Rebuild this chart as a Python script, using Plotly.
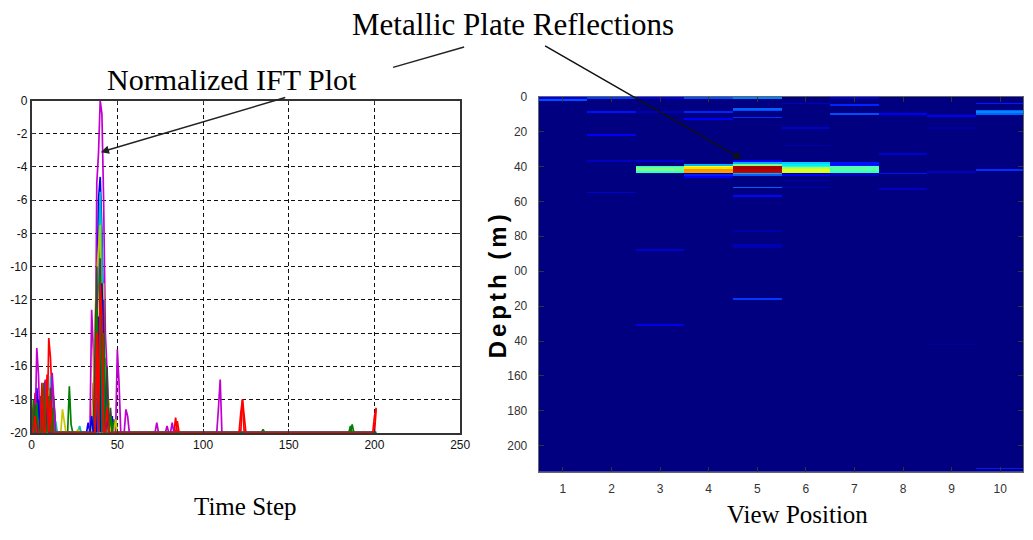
import numpy as np
import plotly.graph_objects as go

W, H = 1033, 540

# ---------------- Left panel: normalized IFT (dB) ----------------
time_steps = list(range(0, 202))
floor_db = -20

series_colors = ["#0000ff", "#008000", "#ff0000", "#00bfbf", "#c000d0",
                 "#c8c800", "#404040", "#0000ff", "#008000", "#ff0000"]

# (time step, dB) samples above the -20 dB floor, one list per view position
ift_peaks_1 = [(1, -18.5), (3, -17.3), (4, -18.5), (6, -18.0), (8, -19.0), (13, -18.2),
               (33, -19.4), (37, -15.0), (38, -12.0), (39, -6.0), (40, -4.6), (41, -8.0),
               (42, -14.0), (45, -18.2), (47, -19.0)]
ift_peaks_2 = [(1, -18.0), (2, -19.0), (5, -17.8), (6, -18.6), (9, -19.2), (12, -17.4),
               (13, -18.0), (22, -17.2), (23, -19.5), (37, -16.0), (38, -13.0), (39, -11.0),
               (40, -8.0), (41, -12.0), (43, -15.5), (44, -17.0), (48, -19.2), (135, -19.8),
               (186, -19.6)]
ift_peaks_3 = [(2, -17.6), (5, -18.3), (7, -17.5), (8, -16.8), (10, -14.3), (11, -15.5),
               (12, -18.0), (36, -17.0), (38, -12.0), (39, -9.5), (40, -10.6), (41, -12.0),
               (43, -17.5), (84, -19.1), (123, -18.0), (124, -19.0), (201, -18.6)]
ift_peaks_4 = [(4, -18.4), (7, -18.0), (11, -16.6), (12, -18.8), (14, -19.3), (28, -19.6),
               (37, -16.5), (38, -13.0), (39, -8.5), (40, -5.5), (41, -9.0), (43, -16.0),
               (46, -18.8)]
ift_peaks_5 = [(3, -14.9), (4, -16.5), (8, -16.9), (9, -18.0), (12, -16.4), (13, -18.5),
               (35, -12.6), (36, -15.0), (38, -5.0), (39, -3.2), (40, 0.0), (41, -0.8),
               (42, -6.0), (43, -14.0), (44, -16.3), (50, -15.0), (51, -17.0), (55, -18.6),
               (56, -19.0), (73, -19.4), (79, -19.6), (82, -19.4), (109, -18.5), (110, -16.8)]
ift_peaks_6 = [(5, -18.8), (10, -17.5), (18, -18.6), (19, -19.3), (27, -19.8), (36, -18.0),
               (37, -13.0), (38, -10.5), (39, -9.0), (40, -7.5), (42, -11.0), (45, -18.0),
               (49, -19.2)]
ift_peaks_7 = [(2, -18.3), (6, -17.5), (9, -17.8), (11, -17.3), (37, -15.0), (38, -10.0),
               (40, -9.5), (42, -12.0), (44, -16.0), (46, -18.5)]
ift_peaks_8 = [(4, -18.0), (7, -17.4), (9, -18.5), (35, -19.0), (39, -13.0), (41, -11.0),
               (42, -15.0), (44, -19.0)]
ift_peaks_9 = [(3, -18.2), (7, -17.0), (10, -17.8), (12, -18.5), (38, -12.5), (40, -10.6),
               (42, -14.0), (46, -19.0), (187, -19.5)]
ift_peaks_10 = [(2, -19.0), (6, -17.0), (9, -16.5), (11, -18.0), (38, -14.0), (40, -11.0),
                (41, -13.0), (44, -18.5), (85, -19.3), (122, -18.8), (123, -18.0),
                (200, -19.0), (201, -18.5)]

ift_series = [ift_peaks_1, ift_peaks_2, ift_peaks_3, ift_peaks_4, ift_peaks_5,
              ift_peaks_6, ift_peaks_7, ift_peaks_8, ift_peaks_9, ift_peaks_10]

time_ticks = [0, 50, 100, 150, 200, 250]
db_ticks = list(range(-20, 1, 2))

# ---------------- Right panel: depth image ----------------
view_positions = list(range(1, 11))
depths = list(range(0, 216))
depth_ticks = list(range(0, 201, 20))

# (depth, normalized intensity) reflections per view position
refl_pos1 = [(1, 0.10), (2, 0.20)]
refl_pos2 = [(1, 0.18), (9, 0.14), (22, 0.12), (37, 0.06), (55, 0.08)]
refl_pos3 = [(1, 0.10), (9, 0.05), (37, 0.08), (40, 0.40), (41, 0.50), (42, 0.50),
             (43, 0.42), (88, 0.08), (131, 0.10)]
refl_pos4 = [(1, 0.20), (9, 0.16), (13, 0.12), (39, 0.30), (40, 0.62), (41, 0.65),
             (42, 0.73), (43, 0.72), (45, 0.15), (46, 0.12)]
refl_pos5 = [(1, 0.25), (7, 0.22), (8, 0.20), (12, 0.17), (37, 0.12), (38, 0.30),
             (39, 0.50), (40, 0.95), (41, 0.97), (42, 0.95), (43, 0.93), (44, 0.30),
             (45, 0.22), (52, 0.22), (57, 0.13), (77, 0.04), (85, 0.05), (86, 0.05),
             (116, 0.18)]
refl_pos6 = [(4, 0.06), (18, 0.07), (28, 0.04), (38, 0.33), (39, 0.36), (40, 0.40),
             (41, 0.55), (42, 0.60), (43, 0.58), (45, 0.12), (48, 0.05), (52, 0.05)]
refl_pos7 = [(1, 0.08), (5, 0.16), (10, 0.20), (38, 0.14), (39, 0.14), (40, 0.45),
             (41, 0.46), (42, 0.46), (43, 0.42), (45, 0.06)]
refl_pos8 = [(10, 0.12), (33, 0.08), (44, 0.14), (53, 0.07)]
refl_pos9 = [(11, 0.12), (18, 0.04), (43, 0.06), (142, 0.03)]
refl_pos10 = [(4, 0.15), (8, 0.22), (9, 0.26), (10, 0.22), (42, 0.17), (213, 0.15)]

reflections = [refl_pos1, refl_pos2, refl_pos3, refl_pos4, refl_pos5,
               refl_pos6, refl_pos7, refl_pos8, refl_pos9, refl_pos10]

jet = [[0.0, "rgb(0,0,128)"], [0.125, "rgb(0,0,255)"], [0.375, "rgb(0,255,255)"],
       [0.625, "rgb(255,255,0)"], [0.875, "rgb(255,0,0)"], [1.0, "rgb(128,0,0)"]]

# ---------------- Build figure ----------------
def px(x):
    return x / W

def py(y):
    return 1 - y / H

fig = go.Figure()

for peaks, color in zip(ift_series, series_colors):
    vals = np.full(len(time_steps), float(floor_db))
    for t, v in peaks:
        vals[time_steps.index(t)] = v
    fig.add_trace(go.Scatter(x=time_steps, y=vals, mode="lines",
                             line=dict(color=color, width=1.7),
                             xaxis="x", yaxis="y", showlegend=False, hoverinfo="skip"))

z = np.zeros((len(depths), len(view_positions)))
for ci, refl in enumerate(reflections):
    for d, v in refl:
        z[depths.index(d), ci] = v

fig.add_trace(go.Heatmap(x=view_positions, y=depths, z=z, colorscale=jet,
                         zmin=0, zmax=1, showscale=False, xaxis="x2", yaxis="y2",
                         hoverinfo="skip"))

tick_font = dict(family="Liberation Sans, Arial", size=12, color="#111")
tick_font2 = dict(family="Liberation Sans, Arial", size=12, color="#333")

fig.update_layout(
    width=W, height=H,
    margin=dict(l=0, r=0, t=0, b=0),
    paper_bgcolor="white", plot_bgcolor="white",
    xaxis=dict(domain=[px(29), px(463)], range=[0, 250],
               tickvals=time_ticks, ticktext=[str(v) for v in time_ticks],
               showgrid=True, gridcolor="#111", griddash="4px,3px", gridwidth=1.3,
               zeroline=False, showline=True, linecolor="#333", linewidth=1.5,
               mirror="ticks", ticks="inside", ticklen=4, tickcolor="#333",
               tickfont=tick_font, anchor="y"),
    yaxis=dict(domain=[py(437), py(96)], range=[-20, 0],
               tickvals=db_ticks, ticktext=[str(v) for v in db_ticks],
               showgrid=True, gridcolor="#111", griddash="4px,3px", gridwidth=1.3,
               zeroline=False, showline=True, linecolor="#333", linewidth=1.5,
               mirror="ticks", ticks="inside", ticklen=4, tickcolor="#333",
               tickfont=tick_font, anchor="x"),
    xaxis2=dict(domain=[px(542.5), 1.0], range=[0.5, 10.47],
                tickvals=view_positions, ticktext=[str(v) for v in view_positions],
                showgrid=False, zeroline=False, showline=True, linecolor="#666",
                linewidth=1, mirror="ticks", ticks="inside", ticklen=5, tickcolor="#333",
                tickfont=tick_font2, ticklabelstandoff=6, anchor="y2"),
    yaxis2=dict(domain=[py(477), py(92)], range=[214.8, 0],
                tickvals=depth_ticks, ticktext=[str(v) for v in depth_ticks],
                showgrid=False, zeroline=False, showline=True, linecolor="#666",
                linewidth=1, mirror="ticks", ticks="inside", ticklen=5, tickcolor="#333",
                tickfont=tick_font2, ticklabelstandoff=8, anchor="x2"),
)

serif = "Liberation Serif, Times New Roman"

# Upper part of the leader line toward the IFT plot
fig.add_shape(type="line", xref="paper", yref="paper",
              x0=px(395), y0=py(62), x1=px(467), y1=py(41),
              line=dict(color="#222", width=1.5))

annotations = [
    dict(text="Metallic Plate Reflections", x=px(516), y=py(18), xref="paper", yref="paper",
         showarrow=False, font=dict(family=serif, size=31, color="black"),
         xanchor="center", yanchor="middle"),
    dict(text="Normalized IFT Plot", x=px(232), y=py(55), xref="paper", yref="paper",
         showarrow=False, font=dict(family=serif, size=30, color="black"),
         xanchor="center", yanchor="top", height=27, valign="top"),
    dict(text="Time Step", x=px(246), y=py(513), xref="paper", yref="paper",
         showarrow=False, font=dict(family=serif, size=25, color="black"),
         xanchor="center", yanchor="middle"),
    dict(text="View Position", x=px(805), y=py(521), xref="paper", yref="paper",
         showarrow=False, font=dict(family=serif, size=25, color="black"),
         xanchor="center", yanchor="middle"),
    dict(text='<span style="letter-spacing:4px"><b>Depth (m)</b></span>',
         x=px(500), y=py(285), xref="paper", yref="paper",
         showarrow=False, textangle=-90, bgcolor="white", borderpad=1,
         height=32, valign="middle",
         font=dict(family="Liberation Sans, Arial", size=24, color="black"),
         xanchor="center", yanchor="middle"),
    dict(text="", x=px(99), y=py(149), xref="paper", yref="paper",
         showarrow=True, ax=186, ay=-55, arrowhead=2, arrowsize=1.1, arrowwidth=1.5,
         arrowcolor="#222", standoff=0),
    dict(text="", x=px(748), y=py(156), xref="paper", yref="paper",
         showarrow=True, ax=-198, ay=-114, arrowhead=2, arrowsize=1.1, arrowwidth=1.5,
         arrowcolor="#111", standoff=0),
]
fig.update_layout(annotations=annotations)

fig.write_html("out.html", config={"displayModeBar": False})

# remove the default page margin so the 1033x540 figure fills the window exactly
with open("out.html", "r", encoding="utf-8") as f:
    html = f.read()
html = html.replace("<head>", "<head><style>html,body{margin:0;padding:0;overflow:hidden;}</style>", 1)
with open("out.html", "w", encoding="utf-8") as f:
    f.write(html)
